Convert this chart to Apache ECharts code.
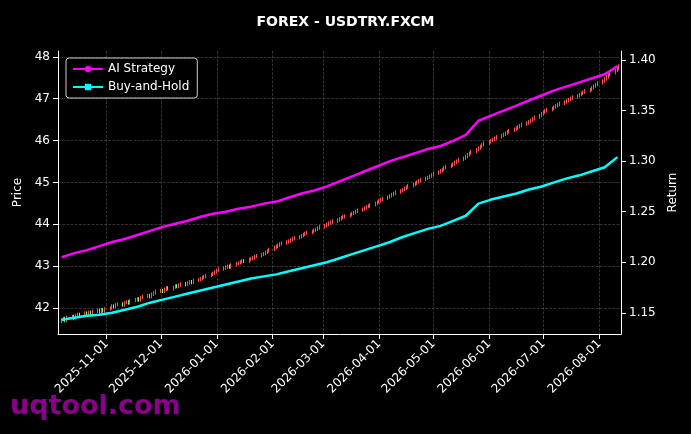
<!DOCTYPE html>
<html style="height: 100%">
<head>
    <meta charset="utf-8">
    <script src="https://cdn.jsdelivr.net/npm/echarts@6/dist/echarts.min.js"></script>
</head>
<body style="height: 100%; margin: 0; background: #000">
<div id="container" style="width: 691px; height: 434px"></div>
<script type="text/javascript">
    // daily closes, business days from 2025-10-07 to 2026-08-12
    var closes = [
        41.72, 41.75, 41.70, 41.78, 41.80, 41.76, 41.82, 41.85, 41.83, 41.88, 41.86, 41.90, 41.84, 41.92, 41.95, 41.91, 41.96, 41.93, 41.98,
        42.00, 42.05, 42.03, 42.08, 42.10, 42.07, 42.13, 42.15, 42.12, 42.18, 42.20, 42.22, 42.19, 42.25, 42.28, 42.30, 42.27, 42.33, 42.36, 42.40,
        42.42, 42.40, 42.45, 42.48, 42.46, 42.50, 42.53, 42.51, 42.55, 42.58, 42.56, 42.60, 42.63, 42.61, 42.66, 42.68, 42.70, 42.73, 42.75, 42.78, 42.80, 42.83, 42.86,
        42.90, 42.93, 42.95, 42.98, 43.00, 42.98, 43.03, 43.06, 43.08, 43.10, 43.13, 43.12, 43.16, 43.18, 43.20, 43.23, 43.25, 43.28, 43.30, 43.33, 43.36, 43.40,
        43.45, 43.47, 43.50, 43.53, 43.55, 43.58, 43.60, 43.63, 43.66, 43.68, 43.70, 43.73, 43.76, 43.78, 43.80, 43.83, 43.86, 43.88, 43.91, 43.94,
        43.97, 44.00, 44.03, 44.05, 44.08, 44.10, 44.13, 44.16, 44.18, 44.20, 44.23, 44.26, 44.28, 44.31, 44.34, 44.36, 44.39, 44.42, 44.44, 44.47, 44.50, 44.53,
        44.56, 44.59, 44.62, 44.65, 44.68, 44.71, 44.74, 44.77, 44.80, 44.83, 44.86, 44.89, 44.92, 44.95, 44.98, 45.01, 45.04, 45.07, 45.10, 45.12, 45.15, 45.18,
        45.22, 45.25, 45.28, 45.31, 45.35, 45.38, 45.41, 45.44, 45.48, 45.51, 45.55, 45.58, 45.62, 45.66, 45.70, 45.74, 45.78, 45.82, 45.86, 45.90, 45.94,
        45.97, 46.00, 46.03, 46.06, 46.09, 46.12, 46.15, 46.18, 46.21, 46.24, 46.27, 46.30, 46.33, 46.36, 46.39, 46.42, 46.45, 46.48, 46.52, 46.56, 46.60, 46.64,
        46.68, 46.71, 46.74, 46.77, 46.80, 46.83, 46.86, 46.89, 46.92, 46.95, 46.98, 47.01, 47.04, 47.07, 47.10, 47.13, 47.16, 47.19, 47.22, 47.26, 47.30, 47.34, 47.38,
        47.42, 47.47, 47.52, 47.57, 47.62, 47.67, 47.72, 47.78
    ];
    var firstOpen = 41.68;
    // return curves, one value every 5 business days
    var aiStrategy = [1.205, 1.209, 1.212, 1.216, 1.220, 1.223, 1.227, 1.231, 1.235, 1.238, 1.241, 1.245, 1.248, 1.250, 1.253,
        1.255, 1.258, 1.260, 1.264, 1.268, 1.271, 1.275, 1.280, 1.285, 1.290, 1.295, 1.300, 1.304, 1.308, 1.312,
        1.315, 1.320, 1.326, 1.340, 1.345, 1.350, 1.355, 1.360, 1.365, 1.370, 1.374, 1.378, 1.382, 1.386, 1.394];
    var buyHold = [1.143, 1.145, 1.147, 1.148, 1.150, 1.153, 1.156, 1.160, 1.163, 1.166, 1.169, 1.172, 1.175, 1.178, 1.181,
        1.184, 1.186, 1.188, 1.191, 1.194, 1.197, 1.200, 1.204, 1.208, 1.212, 1.216, 1.220, 1.225, 1.229, 1.233,
        1.236, 1.241, 1.246, 1.258, 1.262, 1.265, 1.268, 1.272, 1.275, 1.279, 1.283, 1.286, 1.290, 1.294, 1.304];
    var priceTicks = [42, 43, 44, 45, 46, 47, 48];
    var returnTicks = [1.15, 1.20, 1.25, 1.30, 1.35, 1.40];
    var wick = 0.04;

    var dates = [];
    var d = new Date(Date.UTC(2025, 9, 7));
    while (dates.length < closes.length) {
        var wd = d.getUTCDay();
        if (wd !== 0 && wd !== 6) dates.push(d.getTime());
        d = new Date(d.getTime() + 86400000);
    }
    var candles = closes.map(function (c, i) {
        var o = i === 0 ? firstOpen : closes[i - 1];
        return [dates[i], o, c, Math.min(o, c) - wick, Math.max(o, c) + wick];
    });
    var aiData = aiStrategy.map(function (v, i) { return [dates[Math.min(i * 5, dates.length - 1)], v]; });
    var bhData = buyHold.map(function (v, i) { return [dates[Math.min(i * 5, dates.length - 1)], v]; });

    var myChart = echarts.init(document.getElementById("container"));
    var font = 'DejaVu Sans';
    var grid = { color: '#4a4a4a', type: 'dashed', width: 0.7 };
    var option = {
        backgroundColor: '#000',
        animation: false,
        textStyle: { fontFamily: font },
        title: {
            text: 'FOREX - USDTRY.FXCM', left: 'center', top: 10,
            textStyle: { color: '#fff', fontSize: 14, fontWeight: 'bold', fontFamily: font }
        },
        graphic: [{
            type: 'text', left: 10, top: 393,
            style: { text: 'uqtool.com', fill: '#8b008b', font: 'bold 27px DejaVu Sans' }
        }],
        legend: {
            left: 66, top: 58, orient: 'vertical', itemGap: 6,
            backgroundColor: '#000', borderColor: '#ccc', borderWidth: 1, borderRadius: 3,
            padding: [5, 8, 5, 6], itemWidth: 30, itemHeight: 8,
            textStyle: { color: '#fff', fontSize: 12 },
            data: ['AI Strategy', 'Buy-and-Hold']
        },
        grid: { left: 58, right: 70, top: 51, bottom: 100 },
        xAxis: {
            type: 'time',
            min: Date.UTC(2025, 9, 5), max: Date.UTC(2026, 7, 13),
            minInterval: 28 * 86400000, maxInterval: 31 * 86400000,
            axisLine: { lineStyle: { color: '#fff' } },
            axisTick: { lineStyle: { color: '#fff' } },
            axisLabel: {
                color: '#fff', fontSize: 12, rotate: 45, hideOverlap: false,
                formatter: '{yyyy}-{MM}-{dd}'
            },
            splitLine: { show: true, lineStyle: grid }
        },
        yAxis: [{
            type: 'value', min: 41.38, max: 48.14,
            name: 'Price', nameLocation: 'middle', nameGap: 34,
            nameTextStyle: { color: '#fff', fontSize: 12 },
            axisLine: { show: true, lineStyle: { color: '#fff' } },
            axisTick: { show: true, customValues: priceTicks },
            axisLabel: { color: '#fff', fontSize: 12, customValues: priceTicks },
            splitLine: { show: true, lineStyle: grid }
        }, {
            type: 'value', min: 1.129, max: 1.409,
            name: 'Return', nameLocation: 'middle', nameGap: 46,
            nameTextStyle: { color: '#fff', fontSize: 12 },
            axisLine: { show: true, lineStyle: { color: '#fff' } },
            axisTick: { show: true, customValues: returnTicks },
            axisLabel: { color: '#fff', fontSize: 12, customValues: returnTicks,
                formatter: function (v) { return v.toFixed(2); } },
            splitLine: { show: false }
        }],
        series: [{
            type: 'candlestick', name: 'Price', data: candles, barMaxWidth: 1.6,
            itemStyle: { color: '#ff5050', color0: '#70ff70', borderColor: '#ff5050', borderColor0: '#70ff70', borderWidth: 1 }
        }, {
            type: 'line', name: 'AI Strategy', yAxisIndex: 1, data: aiData,
            symbol: 'circle', symbolSize: 5, showSymbol: false,
            itemStyle: { color: '#ff00ff' }, lineStyle: { color: '#ff00ff', width: 2.5 }
        }, {
            type: 'line', name: 'Buy-and-Hold', yAxisIndex: 1, data: bhData,
            symbol: 'rect', symbolSize: 5, showSymbol: false,
            itemStyle: { color: '#00ffff' }, lineStyle: { color: '#00ffff', width: 2.5 }
        }]
    };
    myChart.setOption(option);
</script>
</body>
</html>
